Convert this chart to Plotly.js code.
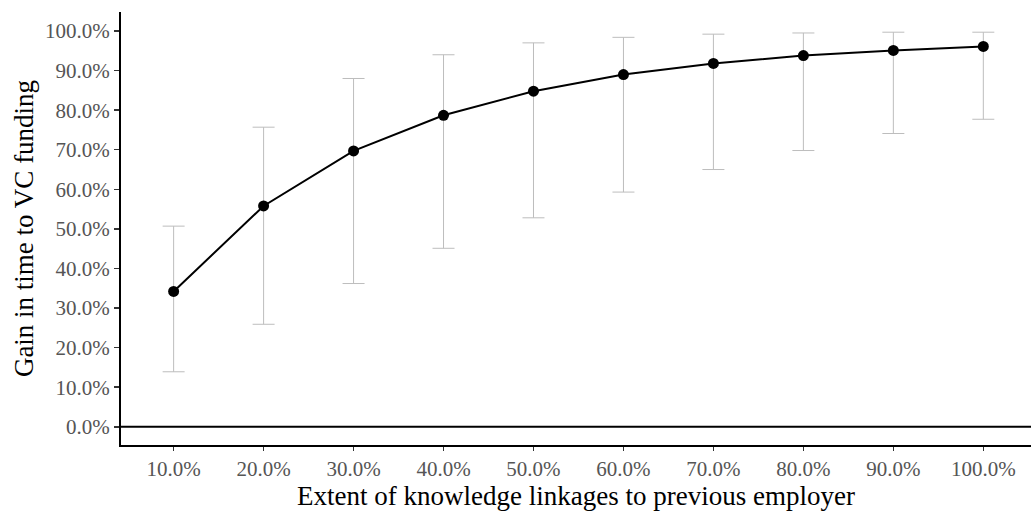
<!DOCTYPE html>
<html>
<head>
<meta charset="utf-8">
<script src="https://cdn.plot.ly/plotly-3.0.1.min.js"></script>
<style>html,body{margin:0;padding:0;background:#fff;}#chart{width:1031px;height:511px;}</style>
</head>
<body>
<div id="chart"></div>
<script>
const linkage = [0.1, 0.2, 0.3, 0.4, 0.5, 0.6, 0.7, 0.8, 0.9, 1.0];
const gain    = [0.342, 0.558, 0.697, 0.787, 0.848, 0.890, 0.918, 0.938, 0.951, 0.961];
const upper   = [0.507, 0.757, 0.880, 0.940, 0.970, 0.984, 0.992, 0.995, 0.997, 0.997];
const lower   = [0.139, 0.259, 0.362, 0.451, 0.528, 0.593, 0.650, 0.698, 0.741, 0.777];
const xTitle = "Extent of knowledge linkages to previous employer";
const yTitle = "Gain in time to VC funding";

const errPlus  = upper.map((u, i) => u - gain[i]);
const errMinus = gain.map((g, i) => g - lower[i]);

const serif = "Liberation Serif, Times New Roman, serif";

const traces = [{
  type: "scatter",
  mode: "lines+markers",
  x: linkage,
  y: gain,
  line: {color: "#000", width: 2},
  marker: {color: "#000", size: 11},
  error_y: {
    type: "data", symmetric: false,
    array: errPlus, arrayminus: errMinus,
    color: "#bdbdbd", thickness: 1, width: 11
  },
  showlegend: false,
  hoverinfo: "x+y"
}];

const layout = {
  width: 1031, height: 511,
  margin: {l: 121, r: 0, t: 12, b: 66},
  paper_bgcolor: "#fff", plot_bgcolor: "#fff",
  font: {family: serif},
  xaxis: {
    range: [0.0415, 1.053],
    tickvals: linkage,
    tickformat: ".1%",
    showgrid: false, zeroline: false,
    showline: true, linecolor: "#000", linewidth: 2,
    ticks: "outside", ticklen: 4, tickwidth: 1.5, tickcolor: "#333",
    tickfont: {family: serif, size: 21, color: "#555"},
    title: {text: xTitle, font: {family: serif, size: 27, color: "#000"}, standoff: 2}
  },
  yaxis: {
    range: [-0.046, 1.048],
    dtick: 0.1, tick0: 0,
    tickformat: ".1%",
    showgrid: false, zeroline: false,
    showline: true, linecolor: "#000", linewidth: 2,
    ticks: "outside", ticklen: 5, tickwidth: 1.5, tickcolor: "#333",
    tickfont: {family: serif, size: 21, color: "#555"},
    title: {text: yTitle, font: {family: serif, size: 27, color: "#000"}, standoff: 4}
  },
  shapes: [{
    type: "line", xref: "paper", x0: 0, x1: 1, yref: "y", y0: 0, y1: 0,
    line: {color: "#000", width: 2}
  }]
};

Plotly.newPlot("chart", traces, layout, {displayModeBar: false, staticPlot: true});
</script>
</body>
</html>
